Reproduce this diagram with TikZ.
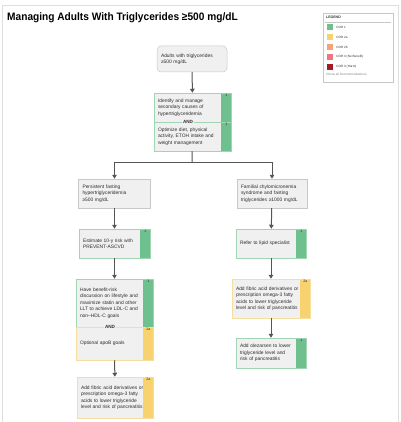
\documentclass[tikz,border=0pt]{standalone}
\usepackage{fontspec}
\setmainfont{Liberation Sans}
\newfontfamily\titlefont[FakeStretch=0.94]{Liberation Sans}
\usetikzlibrary{arrows.meta,positioning}

\definecolor{corgreen}{RGB}{110,192,142}
\definecolor{coryellow}{RGB}{247,210,110}
\definecolor{cortwob}{RGB}{244,164,120}
\definecolor{cornobenefit}{RGB}{236,120,125}
\definecolor{corharm}{RGB}{160,30,35}
\definecolor{boxfill}{RGB}{240,240,240}
\definecolor{boxline}{RGB}{200,200,200}
\definecolor{greenline}{RGB}{160,212,178}
\definecolor{yellowline}{RGB}{246,222,160}
\definecolor{arrowgray}{RGB}{85,85,85}
\definecolor{textgray}{RGB}{45,45,45}
\definecolor{framegray}{RGB}{222,222,222}

\begin{document}
\begin{tikzpicture}
[
x=1pt, y=-1pt,
corbox/.style 2 args={draw=boxline, fill=boxfill, line width=0.5pt, minimum width=#1, minimum height=#2,
  text width=#1-8pt, inner xsep=4pt, inner ysep=2pt, align=left, text=textgray,
  font=\fontsize{4.9}{6.5}\selectfont},
stripgreen/.style={draw=greenline, path picture={\fill[corgreen] ([xshift=-10pt]path picture bounding box.north east) rectangle (path picture bounding box.south east);},
  label={[cornum, anchor=north, xshift=-5pt, yshift=-1pt]north east:1}},
stripyellow/.style={draw=yellowline, path picture={\fill[coryellow] ([xshift=-10pt]path picture bounding box.north east) rectangle (path picture bounding box.south east);},
  label={[cornum, anchor=north, xshift=-5pt, yshift=-1pt]north east:2a}},
cornum/.style={inner sep=0pt, text=textgray, font=\fontsize{3.6}{4}\selectfont},
andlabel/.style={fill=boxfill, inner xsep=1.5pt, inner ysep=0.5pt, text=textgray, font=\fontsize{4.6}{5}\selectfont\bfseries},
flow/.style={draw=arrowgray, line width=1pt, -{Triangle[length=4pt,width=4.6pt]}},
swatch/.style={draw=none, minimum size=6pt, inner sep=0pt},
legtext/.style={inner sep=0pt, text=textgray, font=\fontsize{3.1}{3.5}\selectfont}
]
\useasboundingbox (0,0) rectangle (400,422);
\draw[framegray, line width=0.8pt] (2,422) -- (2,5) -- (398,5) -- (398,422);

%Title
\node[anchor=base west, inner sep=0pt, font=\titlefont\fontsize{10.8}{13}\selectfont\bfseries] (title) at (7,21) {Managing Adults With Triglycerides ≥500 mg/dL};

%Legend
\node[draw=boxline, line width=0.5pt, minimum width=70pt, minimum height=69pt] (legend) at (358,47.5) {};
\node[anchor=west, inner sep=0pt, text=textgray, font=\fontsize{3.5}{4}\selectfont\bfseries] (leghead) at (326,17) {LEGEND};
\draw[boxline, line width=0.5pt] (325,22) -- (391,22);
\node[swatch, fill=corgreen]     (sw1) at (330,27) {};
\node[swatch, fill=coryellow]    (sw2) at (330,37) {};
\node[swatch, fill=cortwob]      (sw3) at (330,47) {};
\node[swatch, fill=cornobenefit] (sw4) at (330,57) {};
\node[swatch, fill=corharm]      (sw5) at (330,67) {};
\node[legtext, right=3pt of sw1] (lt1) {COR 1};
\node[legtext, right=3pt of sw2] (lt2) {COR 2a};
\node[legtext, right=3pt of sw3] (lt3) {COR 2b};
\node[legtext, right=3pt of sw4] (lt4) {COR 3 (No Benefit)};
\node[legtext, right=3pt of sw5] (lt5) {COR 3 (Harm)};
\node[legtext, anchor=west, text=gray] (showall) at (326,75) {(Show all Recommendations)};

%Nodes
\node[corbox={70pt}{26pt}, rounded corners=4pt] (start) at (192,59) {Adults with triglycerides\\≥500 mg/dL};
\node[corbox={77pt}{29pt}, stripgreen] (id1) at (192.5,107.5) {Identify and manage\\secondary causes of\\hypertriglyceridemia};
\node[corbox={77pt}{29pt}, stripgreen] (id2) at (192.5,136.5) {Optimize diet, physical\\activity, ETOH intake and\\weight management};
\node[andlabel] (and1) at (188,122) {AND};

\node[corbox={72pt}{29pt}] (l1) at (114.5,193.5) {Persistent fasting\\hypertriglyceridemia\\≥500 mg/dL};
\node[corbox={71pt}{29pt}, stripgreen] (l2) at (114.5,243.5) {Estimate 10-y risk with\\PREVENT-ASCVD};
\node[corbox={77pt}{48pt}, stripgreen] (l3a) at (114.5,303) {Have benefit-risk\\discussion on lifestyle and\\maximize statin and other\\LLT to achieve LDL-C and\\non–HDL-C goals};
\node[corbox={77pt}{33pt}, stripyellow] (l3b) at (114.5,343.5) {Optional apoB goals};
\node[andlabel] (and2) at (110,327) {AND};
\node[corbox={76pt}{41pt}, stripyellow] (l4) at (115,397.5) {Add fibric acid derivatives or\\prescription omega-3 fatty\\acids to lower triglyceride\\level and risk of pancreatitis};

\node[corbox={70pt}{29pt}] (r1) at (272,193.5) {Familial chylomicronemia\\syndrome and fasting\\triglycerides ≥1000 mg/dL};
\node[corbox={70pt}{29pt}, stripgreen] (r2) at (271,243.5) {Refer to lipid specialist};
\node[corbox={78pt}{39pt}, stripyellow] (r3) at (271,298.5) {Add fibric acid derivatives or\\prescription omega-3 fatty\\acids to lower triglyceride\\level and risk of pancreatitis};
\node[corbox={70pt}{30pt}, stripgreen] (r4) at (271,353) {Add olezarsen to lower\\triglyceride level and\\risk of pancreatitis};

%Connectors
\coordinate (split) at (192,162);
\draw[flow] (start) -- (id1);
\draw[draw=arrowgray, line width=1pt] (id2) -- (split);
\draw[flow] (split) -| (l1);
\draw[flow] (split) -| (r1);
\draw[flow] (l1) -- (l2);
\draw[flow] (l2) -- (l3a);
\draw[flow] (l3b) -- (l4);
\draw[flow] (r1) -- (r2);
\draw[flow] (r2) -- (r3);
\draw[flow] (r3) -- (r4);

\end{tikzpicture}
\end{document}
